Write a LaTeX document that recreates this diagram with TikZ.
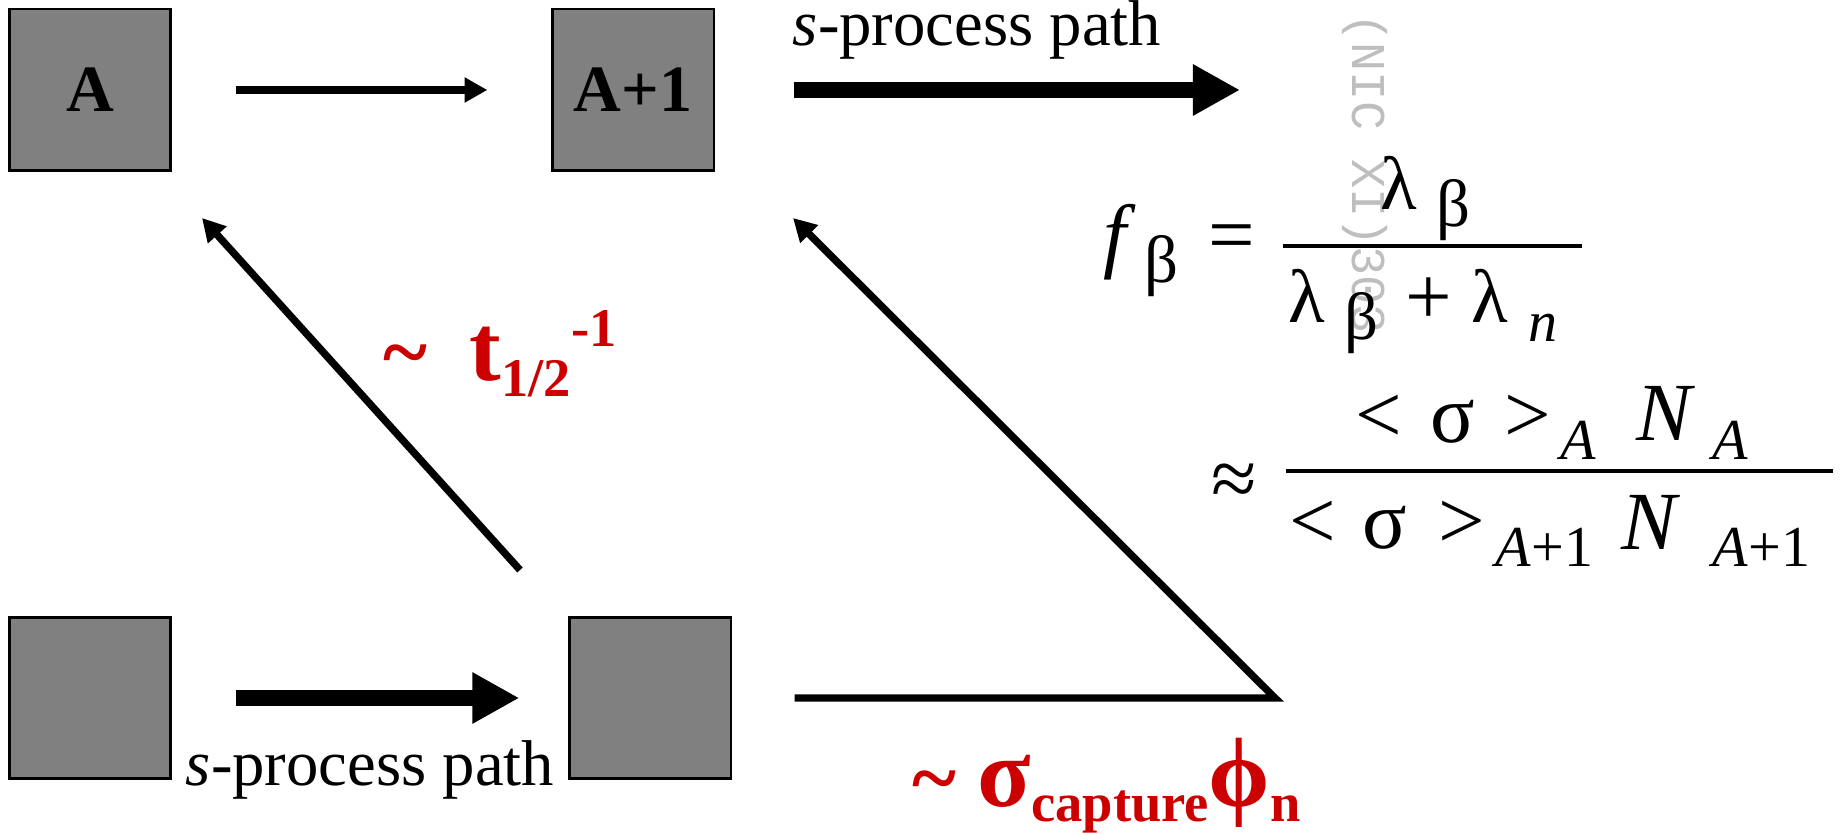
\documentclass[tikz,border=0pt]{standalone}
\usepackage{fontspec}
\setmainfont{Liberation Serif}
\newfontfamily\stampfont{Liberation Mono}
\usetikzlibrary{arrows.meta}
\definecolor{nuclgray}{RGB}{128,128,128}
\definecolor{ratered}{RGB}{204,0,0}
\definecolor{stampgray}{RGB}{190,190,190}
\newcommand{\eqbig}{\fontsize{23.5}{26}\selectfont}
\newcommand{\eqlam}{\fontsize{21.5}{24}\selectfont}
\newcommand{\eqsmall}{\fontsize{16.5}{19}\selectfont}
\newcommand{\eqbeta}{\fontsize{19}{21}\selectfont}
\newcommand{\redbig}{\fontsize{24}{28}\selectfont}
\newcommand{\redt}{\fontsize{27}{30}\selectfont}
\newcommand{\redgreek}{\fontsize{28}{30}\selectfont}
\newcommand{\redsmall}{\fontsize{15.5}{18}\selectfont}
\begin{document}
\begin{tikzpicture}[x=0.01cm,y=-0.01cm,font=\fontsize{18.4}{22}\selectfont,
	nucl/.style={draw,line width=0.6pt,fill=nuclgray,minimum size=1.61cm,inner sep=0pt,font=\bfseries\fontsize{18.8}{22}\selectfont},
	thinarr/.style={line width=2.1pt,-{Triangle[length=6.5pt,width=6.8pt]}},
	fatarr/.style={line width=4.8pt,-{Triangle[length=13.4pt,width=13.7pt]}},
	eq/.style={anchor=base west,inner sep=0pt,font=\eqbig},
	eqlambda/.style={anchor=base west,inner sep=0pt,font=\eqlam},
	eqsub/.style={anchor=base west,inner sep=0pt,font=\eqsmall},
	eqgr/.style={anchor=base west,inner sep=0pt,font=\eqbeta},
	rate/.style={anchor=base west,inner sep=0pt,text=ratered,font=\bfseries\redbig}]
	\useasboundingbox (0,0) rectangle (1840,834);
	% nuclei
	\node[nucl] (nA) at (90,90) {A};
	\node[nucl] (nA1) at (633,90) {A+1};
	\node[nucl] (nB) at (90,698) {};
	\node[nucl] (nB1) at (650,698) {};
	\coordinate (flowout) at (1240,90);
	\coordinate (corner) at (1275,698);
	\coordinate (tipR) at (793,218);
	\coordinate (decaystart) at (520,570);
	\coordinate (decaytip) at (202,218);
	% paths
	\draw[thinarr,shorten <=0.64cm,shorten >=0.64cm] (nA.east)--(nA1.west);
	\draw[fatarr,shorten <=0.79cm] (nA1.east)--(flowout);
	\draw[fatarr,shorten <=0.64cm,shorten >=0.49cm] (nB.east)--(nB1.west);
	\draw[thinarr,shorten <=0.63cm] (nB1.east)--(corner)--(tipR);
	\draw[thinarr] (decaystart)--(decaytip);
	\node[anchor=base] (toplbl) at (977,46) {\textit{s}-process path};
	\node[anchor=base] (botlbl) at (370,785) {\textit{s}-process path};
	\node[rate] (halflife) at (383,381) {\textasciitilde\hspace{12pt}{\redt t}\raisebox{-4.3pt}{\redsmall 1/2}\raisebox{9.7pt}{\redsmall -1}};
	\node[rate] (capture) at (912,806) {\textasciitilde{} {\redgreek σ}\raisebox{-4.5pt}{\redsmall capture}{\redgreek ϕ}\raisebox{-4.5pt}{\redsmall n}};
	% stamp
	\node[rotate=-90,anchor=base west,inner sep=0pt,text=stampgray,font=\stampfont\fontsize{13.8}{16}\selectfont] (stamp) at (1352,13) {(NIC XI)303};
	% branching ratio
	\node[eq] (fb) at (1103,263) {\textit{f}};
	\node[eqgr] (fbsub) at (1144,283) {β};
	\node[eq] (eqsign) at (1208,263) {=};
	\node[eqlambda] (numlam) at (1380,210) {λ};
	\node[eqgr] (numsub) at (1436,227) {β};
	\node[eqlambda] (denlam) at (1288,323) {λ};
	\node[eqgr] (densub) at (1344,340) {β};
	\node[eq] (plus) at (1405,325) {+};
	\node[eqlambda] (denlamn) at (1471,323) {λ};
	\node[eqsub] (densubn) at (1528,342) {\textit{n}};
	\draw[line width=1.1pt] (1283,246)--(1582,246);
	\node[eq] (approx) at (1211,507) {≈};
	\node[eq] (nlt) at (1355,443) {<};
	\node[eq] (nsig) at (1430,443) {σ};
	\node[eq] (ngt) at (1504,443) {>};
	\node[eqsub] (nsigA) at (1560,460) {\textit{A}};
	\node[eq] (nN) at (1636,441) {\textit{N}};
	\node[eqsub] (nNA) at (1712,460) {\textit{A}};
	\draw[line width=1.1pt] (1286,471)--(1833,471);
	\node[eq] (dlt) at (1289,549) {<};
	\node[eq] (dsig) at (1362,549) {σ};
	\node[eq] (dgt) at (1438,549) {>};
	\node[eqsub] (dsigA) at (1495,567) {\textit{A}+1};
	\node[eq] (dN) at (1621,550) {\textit{N}};
	\node[eqsub] (dNA) at (1712,567) {\textit{A}+1};
\end{tikzpicture}
\end{document}
